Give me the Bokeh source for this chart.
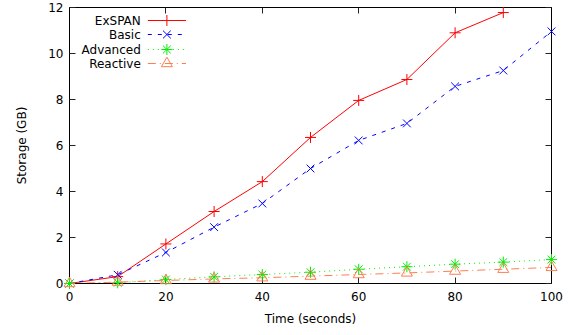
from bokeh.plotting import figure
from bokeh.models import FixedTicker, LinearAxis, Range1d, Label, CustomJSTickFormatter
from bokeh.embed import file_html
from bokeh.resources import INLINE

time_s = [0, 10, 20, 30, 40, 50, 60, 70, 80, 90, 100]
exspan = [0, 0.30, 1.72, 3.13, 4.43, 6.35, 7.96, 8.87, 10.90, 11.78]
basic = [0, 0.38, 1.35, 2.45, 3.48, 5.00, 6.22, 6.96, 8.57, 9.26, 10.96]
advanced = [0, 0.03, 0.17, 0.29, 0.39, 0.49, 0.62, 0.73, 0.84, 0.93, 1.04]
reactive = [0, 0.06, 0.13, 0.20, 0.25, 0.32, 0.39, 0.46, 0.54, 0.62, 0.70]
x_ticks = [0, 20, 40, 60, 80, 100]
y_ticks = [0, 2, 4, 6, 8, 10, 12]

FONT = "DejaVu Sans"
p = figure(width=570, height=335, output_backend="svg", toolbar_location=None,
           x_range=Range1d(0, 100), y_range=Range1d(0, 12),
           min_border_left=69, min_border_right=19, min_border_top=7, min_border_bottom=52)
p.outline_line_color = "black"
p.outline_line_alpha = 1
p.outline_line_width = 1
p.xgrid.visible = False
p.ygrid.visible = False

def style_axis(ax, labels=True):
    ax.major_tick_in = 6
    ax.major_tick_out = 0
    ax.minor_tick_in = 0
    ax.minor_tick_out = 0
    ax.major_tick_line_color = "#222222"
    ax.axis_line_color = "black"
    ax.major_label_text_font = FONT
    ax.major_label_text_font_size = "12px"
    ax.major_label_text_color = "black"
    ax.axis_label_text_font = FONT
    ax.axis_label_text_font_size = "12px"
    ax.axis_label_text_font_style = "normal"
    ax.axis_label_text_color = "black"
    if not labels:
        ax.formatter = CustomJSTickFormatter(code="return ''")
        ax.major_label_standoff = 0

p.xaxis.ticker = FixedTicker(ticks=x_ticks)
p.yaxis.ticker = FixedTicker(ticks=y_ticks)
style_axis(p.xaxis[0])
style_axis(p.yaxis[0])
p.xaxis.axis_label = "Time (seconds)"
p.yaxis.axis_label = "Storage (GB)"
p.xaxis.major_label_standoff = 8
p.yaxis.major_label_standoff = 6
p.xaxis.axis_label_standoff = 8
p.yaxis.axis_label_standoff = 16

top = LinearAxis(ticker=FixedTicker(ticks=x_ticks))
style_axis(top, labels=False)
p.add_layout(top, "above")
right = LinearAxis(ticker=FixedTicker(ticks=y_ticks))
style_axis(right, labels=False)
p.add_layout(right, "right")

series = [
    ("ExSPAN", exspan, "#ff0000", "solid", "cross", 11),
    ("Basic", basic, "#0000ff", "4 6", "x", 11),
    ("Advanced", advanced, "#00ee00", "1 4", "asterisk", 11),
    ("Reactive", reactive, "#ff7f50", "8 4 1 4", "triangle", 11),
]

for name, ys, color, dash, marker, size in series:
    xs = time_s[:len(ys)]
    p.line(xs, ys, line_color=color, line_dash=dash, line_width=1)
    p.scatter(xs, ys, marker=marker, size=size, line_color=color,
              fill_color=None, line_width=1, level="overlay")

# legend (layout in screen pixels -> data units)
frame_w, frame_h = 480.0, 276.0
def dx(px):
    return px * 100.0 / frame_w
def dy(px):
    return 12.0 - px * 12.0 / frame_h
text_right_px = 71
line0_px, line1_px = 78, 116
row_px = [13, 27, 42, 56]
for (name, ys, color, dash, marker, size), ry in zip(series, row_px):
    yy = dy(ry)
    p.add_layout(Label(x=dx(text_right_px), y=yy, text=name, text_align="right",
                       text_baseline="middle", text_font=FONT, text_font_size="12px",
                       text_color="black"))
    p.line([dx(line0_px), dx(line1_px)], [yy, yy], line_color=color, line_dash=dash, line_width=1)
    p.scatter([dx((line0_px + line1_px) / 2)], [yy], marker=marker, size=size,
              line_color=color, fill_color=None, line_width=1)

open("out.html", "w").write(file_html(p, INLINE))
